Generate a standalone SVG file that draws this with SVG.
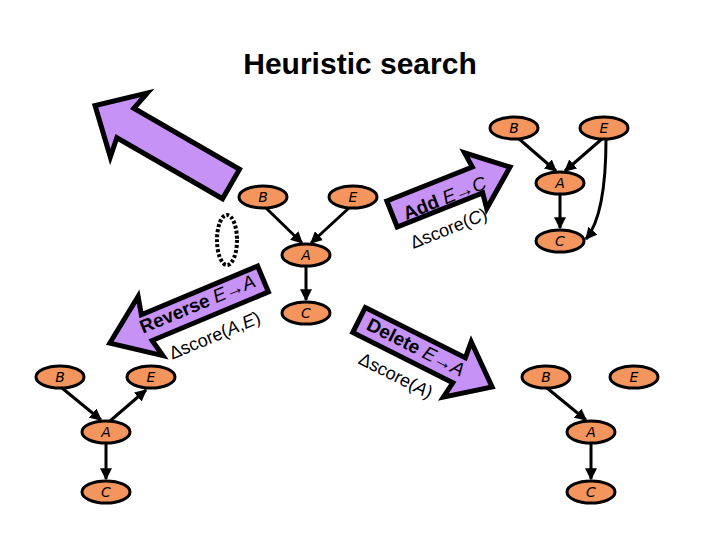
<svg xmlns="http://www.w3.org/2000/svg" width="720" height="540" viewBox="0 0 720 540">
<defs>
<marker id="ah" viewBox="0 0 10 10" refX="9" refY="5" markerWidth="4" markerHeight="4" orient="auto"><path d="M0,0 L10,5 L0,10 z" fill="#000"/></marker>
<style>
.n ellipse{fill:#f4955e;stroke:#000;stroke-width:3}
.n text{font-family:"DejaVu Sans",sans-serif;font-style:italic;font-size:14px;text-anchor:middle}
.e{stroke:#000;stroke-width:3;fill:none;marker-end:url(#ah)}
.arr{fill:#c792f5;stroke:#000;stroke-width:5;stroke-linejoin:miter}
.lb{font-family:"Liberation Sans",sans-serif;font-size:19px;text-anchor:middle}
.sc{font-family:"Liberation Sans",sans-serif;font-size:18px;text-anchor:middle}
</style>
</defs>
<rect width="720" height="540" fill="#fff"/>
<text x="360" y="74" font-family="Liberation Sans,sans-serif" font-weight="bold" font-size="30" text-anchor="middle">Heuristic search</text>
<g id="arrows">
<polygon class="arr" transform="translate(231,184) rotate(210)" points="0,-17 122,-17 118,-37 157,0 118,37 122,17 0,17"/>
<polygon class="arr" transform="translate(263,279) rotate(157.3)" points="0,-14 126,-14 122,-32 166,0 122,32 126,14 0,14"/>
<polygon class="arr" transform="translate(392,214) rotate(-21.7)" points="0,-14 92,-14 90,-30 127,0 90,30 92,14 0,14"/>
<polygon class="arr" transform="translate(359,320) rotate(26.7)" points="0,-14 112,-14 110,-31 149,0 110,31 112,14 0,14"/>
<text class="lb" transform="translate(200,310) rotate(-22.7)"><tspan font-weight="bold">Reverse</tspan> <tspan font-style="italic">E→A</tspan></text>
<text class="sc" transform="translate(217,341) rotate(-22.7)">Δscore(<tspan font-style="italic">A</tspan>,<tspan font-style="italic">E</tspan>)</text>
<text class="lb" transform="translate(447,204) rotate(-21.7)"><tspan font-weight="bold">Add</tspan> <tspan font-style="italic">E→C</tspan></text>
<text class="sc" transform="translate(451,234) rotate(-21.7)">Δscore(<tspan font-style="italic">C</tspan>)</text>
<text class="lb" transform="translate(413,353) rotate(26.7)"><tspan font-weight="bold">Delete</tspan> <tspan font-style="italic">E→A</tspan></text>
<text class="sc" transform="translate(393,381) rotate(26.7)">Δscore(<tspan font-style="italic">A</tspan>)</text>
<ellipse cx="227" cy="240" rx="10" ry="25" fill="none" stroke="#000" stroke-width="4" stroke-dasharray="3,2"/>
</g>
<g id="connectors">
<line class="e" x1="265" y1="207" x2="302" y2="243"/>
<line class="e" x1="350" y1="207" x2="311" y2="243"/>
<line class="e" x1="306" y1="266" x2="306" y2="300"/>
<line class="e" x1="518" y1="138" x2="556" y2="171"/>
<line class="e" x1="603" y1="138" x2="565" y2="171"/>
<line class="e" x1="560" y1="194" x2="560" y2="228"/>
<path class="e" d="M606,139 Q606,215 586,239"/>
<line class="e" x1="62" y1="388" x2="101" y2="420"/>
<line class="e" x1="110" y1="421" x2="146" y2="390"/>
<line class="e" x1="106" y1="443" x2="106" y2="479"/>
<line class="e" x1="547" y1="388" x2="586" y2="420"/>
<line class="e" x1="591" y1="443" x2="591" y2="479"/>
</g>
<g id="n1B" class="n"><ellipse cx="263" cy="197" rx="24" ry="11"/><text x="263" y="202">B</text></g>
<g id="n1E" class="n"><ellipse cx="353" cy="197" rx="24" ry="11"/><text x="353" y="202">E</text></g>
<g id="n1A" class="n"><ellipse cx="306" cy="255" rx="24" ry="11"/><text x="306" y="260">A</text></g>
<g id="n1C" class="n"><ellipse cx="306" cy="313" rx="24" ry="11"/><text x="306" y="318">C</text></g>
<g id="n2B" class="n"><ellipse cx="514" cy="128" rx="24" ry="11"/><text x="514" y="133">B</text></g>
<g id="n2E" class="n"><ellipse cx="604" cy="128" rx="24" ry="11"/><text x="604" y="133">E</text></g>
<g id="n2A" class="n"><ellipse cx="560" cy="183" rx="24" ry="11"/><text x="560" y="188">A</text></g>
<g id="n2C" class="n"><ellipse cx="560" cy="241" rx="24" ry="11"/><text x="560" y="246">C</text></g>
<g id="n3B" class="n"><ellipse cx="60" cy="377" rx="24" ry="11"/><text x="60" y="382">B</text></g>
<g id="n3E" class="n"><ellipse cx="151" cy="377" rx="24" ry="11"/><text x="151" y="382">E</text></g>
<g id="n3A" class="n"><ellipse cx="106" cy="432" rx="24" ry="11"/><text x="106" y="437">A</text></g>
<g id="n3C" class="n"><ellipse cx="106" cy="492" rx="24" ry="11"/><text x="106" y="497">C</text></g>
<g id="n4B" class="n"><ellipse cx="546" cy="377" rx="24" ry="11"/><text x="546" y="382">B</text></g>
<g id="n4E" class="n"><ellipse cx="634" cy="377" rx="24" ry="11"/><text x="634" y="382">E</text></g>
<g id="n4A" class="n"><ellipse cx="591" cy="432" rx="24" ry="11"/><text x="591" y="437">A</text></g>
<g id="n4C" class="n"><ellipse cx="591" cy="492" rx="24" ry="11"/><text x="591" y="497">C</text></g>
</svg>
